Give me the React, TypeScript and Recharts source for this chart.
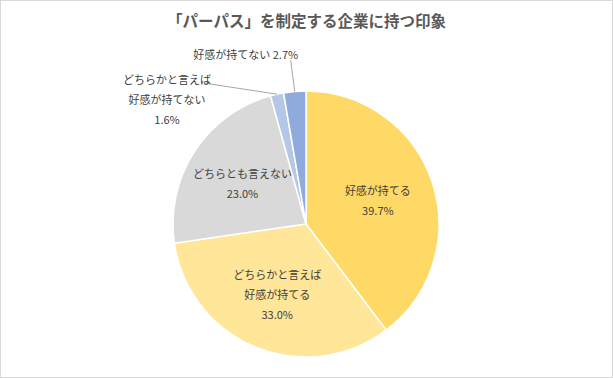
import { PieChart, Pie, Cell } from "recharts";

const TITLE = "「パーパス」を制定する企業に持つ印象";

const categories = [
  "好感が持てる",
  "どちらかと言えば\n好感が持てる",
  "どちらとも言えない",
  "どちらかと言えば\n好感が持てない",
  "好感が持てない",
];
const values = [39.7, 33.0, 23.0, 1.6, 2.7];
const colors = ["#FFD966", "#FFE699", "#D9D9D9", "#B4C7E7", "#8FAADC"];

const data = categories.map((name, i) => ({ name, value: values[i] }));

const FONT = "'Noto Sans CJK JP', 'Noto Sans', sans-serif";
const RAD = Math.PI / 180;

function renderLabel(props: any) {
  const { cx, cy, midAngle, outerRadius, index, name, value } = props;
  const lines: string[] = String(name).split("\n");
  const pct = `${value.toFixed(1)}%`;
  const textStyle = { fontSize: 11, fill: "#404040", fontFamily: FONT };

  if (index <= 2) {
    const r = outerRadius * 0.57;
    const x = cx + r * Math.cos(-midAngle * RAD);
    const y = cy + r * Math.sin(-midAngle * RAD);
    const all = [...lines, pct];
    const top = y - ((all.length - 1) * 20) / 2;
    return (
      <g>
        {all.map((t, k) => (
          <text key={k} x={x} y={top + k * 20} textAnchor="middle" dominantBaseline="central" style={textStyle}>
            {t}
          </text>
        ))}
      </g>
    );
  }

  // edge point of slice
  const ex = cx + outerRadius * Math.cos(-midAngle * RAD);
  const ey = cy + outerRadius * Math.sin(-midAngle * RAD);

  if (index === 3) {
    const tx = ex - 110;
    const ty = ey - 15;
    const all = [...lines, pct];
    return (
      <g>
        <polyline points={`${ex},${ey} ${tx + 38},${ty + 4}`} stroke="#A6A6A6" strokeWidth={1} fill="none" />
        {all.map((t, k) => (
          <text key={k} x={tx} y={ty + k * 20} textAnchor="middle" dominantBaseline="central" style={textStyle}>
            {t}
          </text>
        ))}
      </g>
    );
  }

  const tx = ex - 49;
  const ty = ey - 37;
  return (
    <g>
      <polyline points={`${ex},${ey} ${ex - 4},${ey - 31}`} stroke="#A6A6A6" strokeWidth={1} fill="none" />
      <text x={tx} y={ty} textAnchor="middle" dominantBaseline="central" style={textStyle}>
        {`${lines[0]} ${pct}`}
      </text>
    </g>
  );
}

export default function App() {
  return (
    <div
      style={{
        position: "relative",
        width: 613,
        height: 378,
        boxSizing: "border-box",
        border: "1px solid #D9D9D9",
        background: "#fff",
        fontFamily: FONT,
      }}
    >
      <style>{"body{margin:0}"}</style>
      <div
        style={{
          position: "absolute",
          top: 8,
          left: 0,
          width: "100%",
          textAlign: "center",
          fontSize: 15.5,
          fontWeight: 700,
          color: "#595959",
          lineHeight: "22px",
        }}
      >
        {TITLE}
      </div>
      <PieChart width={611} height={376} margin={{ top: 0, right: 0, bottom: 0, left: 0 }}>
        <Pie
          data={data}
          dataKey="value"
          nameKey="name"
          cx={305}
          cy={223}
          outerRadius={133}
          startAngle={90}
          endAngle={-270}
          stroke="#fff"
          strokeWidth={1.5}
          label={renderLabel}
          labelLine={false}
          isAnimationActive={false}
        >
          {data.map((d, i) => (
            <Cell key={d.name} fill={colors[i]} />
          ))}
        </Pie>
      </PieChart>
    </div>
  );
}
